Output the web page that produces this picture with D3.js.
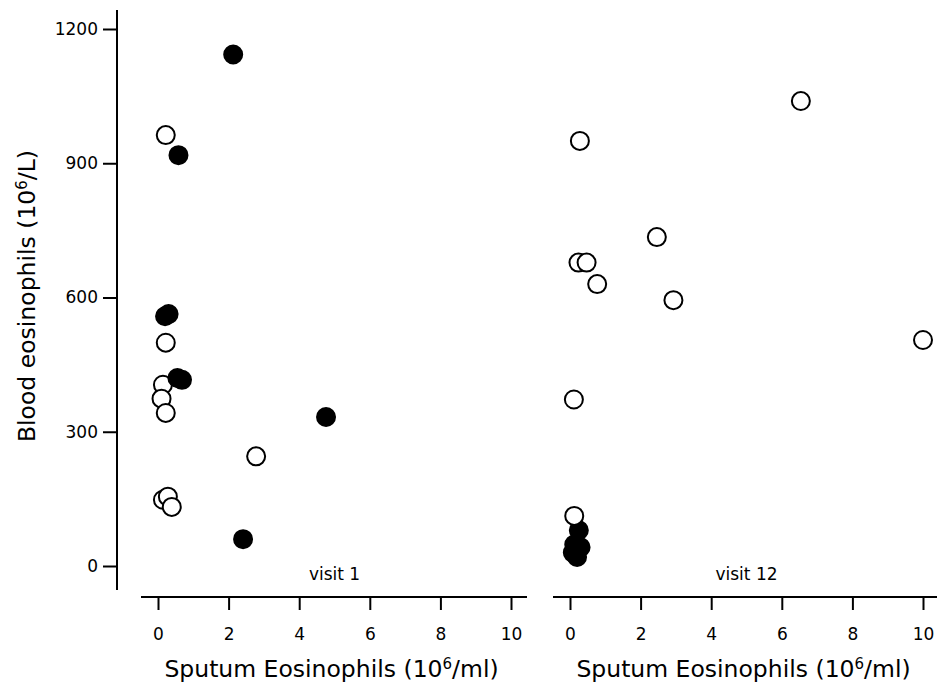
<!DOCTYPE html>
<html>
<head>
<meta charset="utf-8">
<script src="https://cdn.jsdelivr.net/npm/d3@7"></script>
<style>
  body { margin: 0; background: #fff; }
  text { font-family: "DejaVu Sans", sans-serif; fill: #000; }
</style>
</head>
<body>
<div id="chart"></div>
<script>
// visit 1 : 1 = filled, 0 = open (drawing order)
const visit1Sputum = [0.22, 0.22, 0.14, 0.10, 0.22, 2.78, 0.14, 0.28, 0.39, 2.13, 0.58, 0.20, 0.30, 0.55, 0.68, 4.76, 2.41]
const visit1Blood  = [963, 499, 405, 374, 342, 245, 148, 155, 132, 1143, 918, 558, 563, 420, 416, 333, 60]
const visit1Filled = [0, 0, 0, 0, 0, 0, 0, 0, 0, 1, 1, 1, 1, 1, 1, 1, 1]

// visit 12
const visit12Sputum = [0.25, 0.12, 0.30, 0.08, 0.20, 6.54, 0.28, 2.46, 0.24, 0.47, 0.77, 2.93, 10.0, 0.11, 0.12]
const visit12Blood  = [80, 48, 42, 30, 20, 1039, 950, 735, 678, 678, 630, 594, 505, 372, 112]
const visit12Filled = [1, 1, 1, 1, 1, 0, 0, 0, 0, 0, 0, 0, 0, 0, 0]

const yTicks = [0, 300, 600, 900, 1200]
const xTicks = [0, 2, 4, 6, 8, 10]

const svg = d3.select('#chart')
	.append('svg')
	.attr('width', 937)
	.attr('height', 687)

let yScale = d3.scaleLinear()
	.domain([0, 1200])
	.range([566, 29])

// y axis
let yAxis = svg.append('g')
	.attr('transform', 'translate(117,0)')
	.call(d3.axisLeft(yScale).tickValues(yTicks).tickFormat(d3.format('d')).tickSize(14).tickPadding(5))
yAxis.select('.domain').remove()
yAxis.append('line')
	.attr('x1', 0).attr('x2', 0)
	.attr('y1', 10).attr('y2', 590)
	.attr('stroke', '#000').attr('stroke-width', 2)
yAxis.selectAll('.tick line').attr('stroke-width', 2)
yAxis.selectAll('.tick text').style('font-size', '17px').attr('font-family', null)

let yTitle = svg.append('text')
	.attr('transform', 'translate(35,296) rotate(-90)')
	.attr('text-anchor', 'middle')
	.style('font-size', '23.5px')
yTitle.append('tspan').text('Blood eosinophils (10')
yTitle.append('tspan').style('font-size', '15px').attr('dy', -8).text('6')
yTitle.append('tspan').attr('dy', 8).text('/L)')

function drawPanel(x0, lineStart, lineEnd, label, sputum, blood, filled){

	let xScale = d3.scaleLinear()
		.domain([0, 10])
		.range([x0, x0 + 353])

	let axis = svg.append('g')
		.attr('transform', 'translate(0,597)')
		.call(d3.axisBottom(xScale).tickValues(xTicks).tickSize(13).tickPadding(18))
	axis.select('.domain').remove()
	axis.append('line')
		.attr('x1', lineStart).attr('x2', lineEnd)
		.attr('y1', 0).attr('y2', 0)
		.attr('stroke', '#000').attr('stroke-width', 2)
	axis.selectAll('.tick line').attr('stroke-width', 2)
	axis.selectAll('.tick text').style('font-size', '17px').attr('font-family', null)

	svg.append('text')
		.attr('x', xScale(5))
		.attr('y', 580)
		.attr('text-anchor', 'middle')
		.style('font-size', '17px')
		.text(label)

	let title = svg.append('text')
		.attr('x', xScale(5) - 3)
		.attr('y', 677)
		.attr('text-anchor', 'middle')
		.style('font-size', '23.5px')
	title.append('tspan').text('Sputum Eosinophils (10')
	title.append('tspan').style('font-size', '15px').attr('dy', -8).text('6')
	title.append('tspan').attr('dy', 8).text('/ml)')

	let points = sputum.map((d, i) => ({x: d, y: blood[i], f: filled[i]}))

	svg.append('g')
		.selectAll('circle')
		.data(points)
		.enter()
		.append('circle')
		.attr('cx', d => xScale(d.x))
		.attr('cy', d => yScale(d.y))
		.attr('r', 9)
		.attr('fill', d => d.f ? '#000' : '#fff')
		.attr('stroke', '#000')
		.attr('stroke-width', 2)
}

drawPanel(158, 141, 527, 'visit 1', visit1Sputum, visit1Blood, visit1Filled)
drawPanel(570, 553, 937, 'visit 12', visit12Sputum, visit12Blood, visit12Filled)
</script>
</body>
</html>
